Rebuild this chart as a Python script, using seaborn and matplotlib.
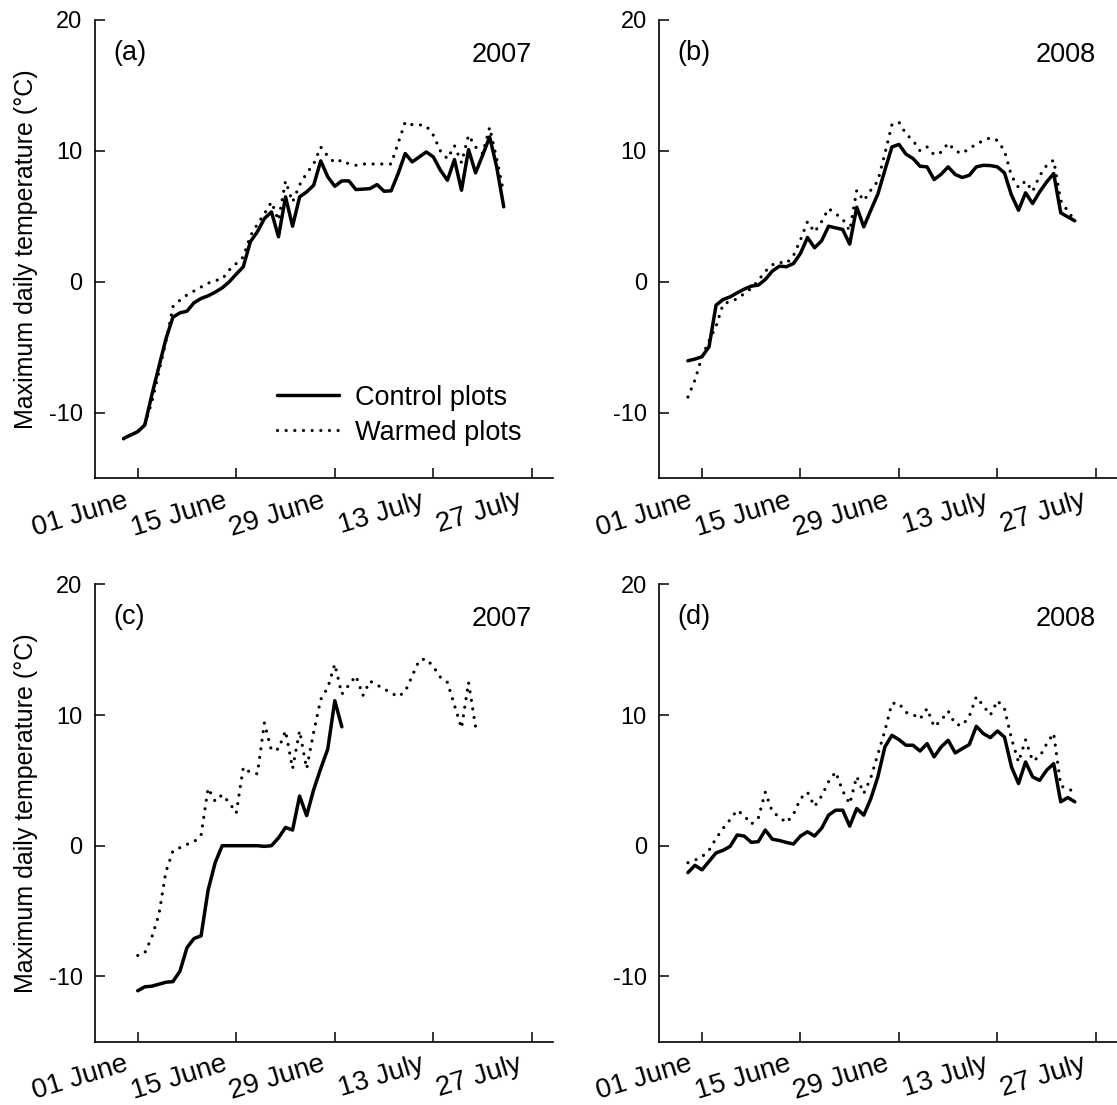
import matplotlib
matplotlib.use("Agg")
import matplotlib.pyplot as plt
from matplotlib.transforms import ScaledTranslation
import pandas as pd
import seaborn as sns

# x positions are days counted from 01 June (day 0)
tick_days = [0, 14, 28, 42, 56]
tick_labels = ["01 June", "15 June", "29 June", "13 July", "27 July"]
y_ticks = [-10, 0, 10, 20]

# (a) 2007
days_a = list(range(-2, 53))
control_a = [-11.96, -11.7, -11.45, -10.94, -8.65, -6.5, -4.37, -2.7, -2.37, -2.24,
             -1.6, -1.27, -1.07, -0.79, -0.46, 0.0, 0.59, 1.15, 3.06, 3.82,
             4.84, 5.34, 3.44, 6.49, 4.25, 6.49, 6.87, 7.38, 9.24, 8.02,
             7.3, 7.71, 7.71, 7.05, 7.08, 7.12, 7.43, 6.92, 6.95, 8.27,
             9.8, 9.16, 9.54, 9.92, 9.54, 8.53, 7.76, 9.34, 7.0, 10.1,
             8.32, 9.67, 11.07, 8.78, 5.73]
warmed_a = [-12.0, -11.7, -11.4, -10.9, -9.2, -6.9, -4.6, -1.9, -1.4, -1.0,
            -0.7, -0.4, -0.1, 0.1, 0.2, 0.9, 1.4, 1.9, 3.5, 4.4,
            5.2, 6.1, 4.7, 7.7, 6.1, 7.4, 8.3, 9.0, 10.3, 9.6,
            9.1, 9.3, 9.0, 8.9, 9.0, 9.0, 9.0, 9.0, 9.0, 10.6,
            12.2, 12.0, 12.0, 11.9, 11.2, 10.0, 9.4, 10.4, 9.1, 11.2,
            10.3, 9.8, 11.8, 9.4, 6.8]

# (b) 2008
days_b = list(range(-2, 54))
control_b = [-6.03, -5.9, -5.72, -4.96, -1.78, -1.35, -1.15, -0.84, -0.56, -0.33,
             -0.25, 0.18, 0.82, 1.2, 1.15, 1.4, 2.17, 3.39, 2.6, 3.13,
             4.25, 4.12, 4.0, 2.88, 5.7, 4.2, 5.47, 6.7, 8.53, 10.3,
             10.5, 9.75, 9.42, 8.83, 8.78, 7.81, 8.22, 8.78, 8.2, 7.97,
             8.14, 8.78, 8.9, 8.88, 8.78, 8.32, 6.62, 5.47, 6.8, 5.98,
             6.87, 7.63, 8.27, 5.27, 4.96, 4.66]
warmed_b = [-8.8, -7.5, -5.7, -4.5, -3.4, -1.7, -1.5, -1.3, -0.9, -0.5,
            0.1, 0.8, 1.3, 1.5, 1.4, 2.0, 3.2, 4.6, 3.8, 4.6,
            5.6, 5.2, 4.8, 3.9, 7.0, 6.2, 7.0, 7.7, 9.8, 12.0,
            12.2, 11.3, 10.8, 10.0, 10.3, 9.7, 9.9, 10.6, 10.0, 9.8,
            10.2, 10.5, 10.8, 11.0, 10.8, 10.0, 8.1, 7.2, 7.7, 6.9,
            8.1, 8.9, 9.3, 6.2, 5.4, 4.7]

# (c) 2007
days_c_control = list(range(0, 30))
control_c = [-11.1, -10.8, -10.75, -10.6, -10.45, -10.4, -9.6, -7.8, -7.1, -6.9,
             -3.4, -1.3, 0.0, 0.0, 0.0, 0.0, 0.0, 0.0, -0.05, 0.0,
             0.6, 1.4, 1.2, 3.8, 2.3, 4.3, 5.9, 7.4, 11.1, 9.1]
days_c_warmed = [0, 1, 2, 3, 4, 5, 7, 8, 9, 10, 11, 12, 13, 14, 15, 16, 17, 18, 19, 20,
                 21, 22, 23, 24, 25, 26, 27, 28, 29, 31, 32, 33, 37, 38, 40, 41, 42, 43,
                 44, 46, 47, 48]
warmed_c = [-8.4, -8.2, -7.0, -5.3, -2.0, -0.4, 0.1, 0.3, 0.8, 4.4, 3.4, 3.9, 3.3, 2.5,
            6.0, 5.6, 5.5, 9.4, 7.3, 7.4, 8.8, 5.9, 8.8, 5.9, 8.7, 11.2, 12.1, 13.9,
            11.6, 13.0, 11.5, 12.6, 11.4, 11.8, 14.2, 14.3, 13.7, 12.9, 12.5, 9.0,
            12.5, 9.1]

# (d) 2008
days_d = list(range(-2, 54))
control_d = [-2.06, -1.5, -1.85, -1.2, -0.55, -0.35, -0.05, 0.82, 0.74, 0.26,
             0.31, 1.2, 0.5, 0.4, 0.25, 0.13, 0.74, 1.07, 0.74, 1.33,
             2.34, 2.72, 2.72, 1.5, 2.85, 2.34, 3.6, 5.27, 7.56, 8.45,
             8.12, 7.69, 7.69, 7.25, 7.81, 6.8, 7.56, 8.07, 7.1, 7.43,
             7.74, 9.14, 8.58, 8.27, 8.78, 8.32, 6.03, 4.76, 6.41, 5.27,
             5.0, 5.78, 6.28, 3.36, 3.69, 3.36]
warmed_d = [-1.3, -1.1, -0.85, -0.35, 0.56, 1.33, 2.0, 2.72, 2.3, 1.65,
            2.1, 4.1, 2.6, 2.2, 1.76, 2.4, 3.6, 4.1, 3.0, 3.8,
            4.9, 5.65, 4.2, 3.2, 5.3, 4.0, 5.2, 7.0, 8.8, 10.9,
            10.9, 10.2, 10.05, 9.7, 10.5, 9.1, 9.6, 10.3, 9.3, 9.2,
            9.9, 11.4, 10.7, 10.0, 11.1, 10.5, 8.2, 6.4, 8.1, 6.5,
            6.8, 7.8, 8.6, 4.6, 4.3, 4.2]

panels = [
    ("(a)", "2007", days_a, control_a, days_a, warmed_a),
    ("(b)", "2008", days_b, control_b, days_b, warmed_b),
    ("(c)", "2007", days_c_control, control_c, days_c_warmed, warmed_c),
    ("(d)", "2008", days_d, control_d, days_d, warmed_d),
]

sns.set_style("ticks")
plt.rcParams["font.family"] = ["Liberation Sans", "DejaVu Sans"]
plt.rcParams["axes.unicode_minus"] = False
for key in ("text.color", "axes.labelcolor", "xtick.color", "ytick.color",
            "axes.edgecolor"):
    plt.rcParams[key] = "black"

W, H = 1117, 1105
fig = plt.figure(figsize=(W / 100, H / 100), dpi=100)

boxes = [(95, 20, 553, 478.2), (659.3, 20, 1117, 478.2),
         (95, 584.4, 553, 1041.7), (659.3, 584.4, 1117, 1041.7)]

dotted = (0, (0.01, 2.7))
for i, ((tag, year, dc, vc, dw, vw), (l, t, r, b)) in enumerate(zip(panels, boxes)):
    ax = fig.add_axes([l / W, 1 - b / H, (r - l) / W, (b - t) / H])
    df_c = pd.DataFrame({"day": dc, "temp": vc})
    df_w = pd.DataFrame({"day": dw, "temp": vw})
    sns.lineplot(data=df_c, x="day", y="temp", ax=ax, color="black", lw=2.5,
                 estimator=None, sort=True, label="Control plots",
                 solid_joinstyle="round")
    sns.lineplot(data=df_w, x="day", y="temp", ax=ax, color="black", lw=2.3,
                 estimator=None, sort=True, label="Warmed plots",
                 linestyle=dotted, dash_capstyle="round")
    ax.set_xlim(-6.07, 59.0)
    ax.set_ylim(-15, 20)
    ax.set_xticks(tick_days)
    ax.set_yticks(y_ticks)
    ax.set_yticklabels([str(v) for v in y_ticks])
    sns.despine(ax=ax)
    for side in ("left", "bottom"):
        ax.spines[side].set_linewidth(1.2)
        ax.spines[side].set_color("black")
    ax.tick_params(axis="both", direction="in", length=7, width=1.1, color="black")
    ax.tick_params(axis="y", labelsize=17, pad=9)
    ax.tick_params(axis="x", labelsize=20, pad=7)
    ax.set_xticklabels(tick_labels, rotation=17, ha="right", va="top",
                       rotation_mode="anchor")
    # nudge the slanted date labels left of their ticks
    shift = ScaledTranslation(-14 / 100, 0, fig.dpi_scale_trans)
    for lab in ax.get_xticklabels():
        lab.set_transform(lab.get_transform() + shift)
    ax.set_xlabel("")
    if i % 2 == 0:
        ax.set_ylabel("Maximum daily temperature (\u00b0C)", fontsize=18)
        ax.yaxis.set_label_coords(-0.124, 0.5)
    else:
        ax.set_ylabel("")
    ax.text(0.04, 0.913, tag, transform=ax.transAxes, fontsize=19.5,
            ha="left", va="baseline")
    ax.text(0.954, 0.908, year, transform=ax.transAxes, fontsize=19.5,
            ha="right", va="baseline")
    if i == 0:
        h, lbl = ax.get_legend_handles_labels()
        ax.legend(h, lbl, loc="upper left", bbox_to_anchor=(0.397, 0.204),
                  frameon=False, fontsize=19.5, handlelength=2.3,
                  handletextpad=0.6, labelspacing=0.335, borderpad=0,
                  borderaxespad=0)
    else:
        leg = ax.get_legend()
        if leg is not None:
            leg.remove()

fig.savefig("out.png", dpi=100)
